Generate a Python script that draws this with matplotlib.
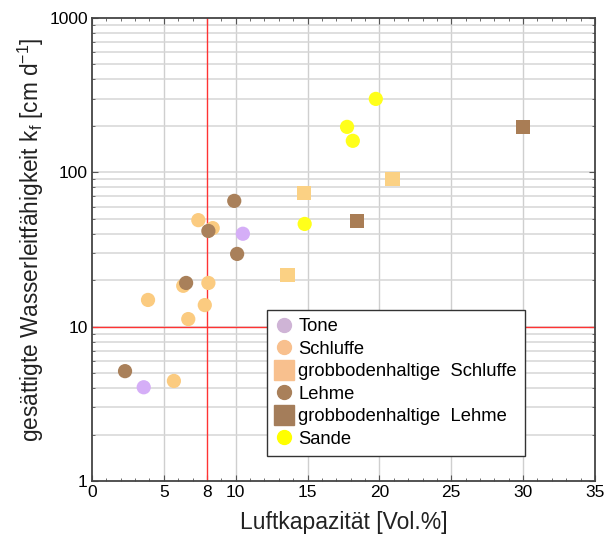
import matplotlib
matplotlib.use("Agg")
import matplotlib.pyplot as plt
from matplotlib.lines import Line2D
from matplotlib.ticker import FixedLocator, NullFormatter, LogLocator

plt.rcParams['font.family'] = ['Liberation Sans', 'DejaVu Sans']
plt.rcParams['mathtext.fontset'] = 'custom'
plt.rcParams['mathtext.rm'] = 'Liberation Sans'
plt.rcParams['mathtext.default'] = 'regular'

# data: Luftkapazitaet [Vol.%] vs kf [cm/d]
tone_x = [3.6, 10.5]
tone_y = [4.05, 40]
schluffe_x = [3.9, 5.7, 6.35, 6.7, 7.4, 7.85, 8.1, 8.4]
schluffe_y = [14.9, 4.45, 18.4, 11.2, 49, 13.8, 19.2, 43.5]
gschluffe_x = [13.6, 14.75, 20.9]
gschluffe_y = [21.6, 73.5, 90.5]
lehme_x = [2.3, 6.55, 8.1, 9.9, 10.1]
lehme_y = [5.15, 19.2, 41.7, 65.3, 29.6]
glehme_x = [18.45, 30.0]
glehme_y = [48.4, 197]
sande_x = [14.8, 17.75, 18.15, 19.75]
sande_y = [46.3, 197, 160, 299]

labels = ["Tone", "Schluffe", "grobbodenhaltige  Schluffe", "Lehme",
          "grobbodenhaltige  Lehme", "Sande"]
plot_colors = ['#D5AEF7', '#FBCB80', '#FBD184', '#A9805A', '#A97D55', '#FFFF1A']
legend_colors = ['#CFB4D6', '#F8C08E', '#F8C08E', '#A9805A', '#A47D5A', '#FFFF00']
markers = ['o', 'o', 's', 'o', 's', 'o']

fig = plt.figure(figsize=(6.14, 5.35), dpi=100)
ax = fig.add_axes([0.1498, 0.1009, 0.8192, 0.8655])

series = [(tone_x, tone_y), (schluffe_x, schluffe_y), (gschluffe_x, gschluffe_y),
          (lehme_x, lehme_y), (glehme_x, glehme_y), (sande_x, sande_y)]
for (xs, ys), c, m in zip(series, plot_colors, markers):
    ax.scatter(xs, ys, s=105 if m == 'o' else 110, marker=m, color=c,
               edgecolors='none', zorder=3)

ax.set_yscale('log')
ax.set_xlim(0, 35)
ax.set_ylim(1, 1000)

# grid
for xv in [5, 10, 15, 20, 25, 30]:
    ax.axvline(xv, color='#cfcfcf', lw=1.0, zorder=1)
for dec in [1, 10, 100]:
    for k in range(1, 10):
        if dec * k > 1:
            ax.axhline(dec * k, color='#d6d6d6', lw=1.1, zorder=1)
ax.axvline(8, color='#ff3333', lw=1.0, zorder=2)
ax.axhline(10, color='#ff3333', lw=1.0, zorder=2)

ax.xaxis.set_major_locator(FixedLocator([0, 5, 8, 10, 15, 20, 25, 30, 35]))
ax.xaxis.set_minor_locator(FixedLocator(list(range(0, 36))))
ax.yaxis.set_major_locator(FixedLocator([1, 10, 100, 1000]))
ax.yaxis.set_major_formatter(matplotlib.ticker.FixedFormatter(['1', '10', '100', '1000']))
ax.yaxis.set_minor_locator(LogLocator(base=10, subs=range(2, 10)))
ax.yaxis.set_minor_formatter(NullFormatter())
ax.tick_params(which='both', direction='in', top=True, right=True, color='#555555')
ax.tick_params(which='major', length=4, labelsize=12.5, pad=3)
ax.tick_params(which='minor', length=2.5)
for sp in ax.spines.values():
    sp.set_color('#444444')
    sp.set_linewidth(1.3)

ax.set_xlabel("Luftkapazität [Vol.%]", fontsize=16.5, labelpad=8, color='#222222')
ax.set_ylabel("gesättigte Wasserleitfähigkeit k$_f$ [cm d$^{-1}$]", fontsize=16.3,
              color='#222222')
ax.yaxis.set_label_coords(-0.092, 0.52)

handles = [Line2D([], [], ls='none', marker=m, color=c, markersize=10 if m == 'o' else 14)
           for m, c in zip(markers, legend_colors)]
leg = ax.legend(handles, labels, loc='lower left', bbox_to_anchor=(0.348, 0.054),
                borderaxespad=0, fontsize=13.2, handletextpad=0.25, handlelength=1.0,
                labelspacing=0.3, borderpad=0.45, fancybox=False, framealpha=1,
                edgecolor='#333333')
leg.get_frame().set_linewidth(1.0)
leg.set_zorder(5)

fig.savefig("out.png", dpi=100)
